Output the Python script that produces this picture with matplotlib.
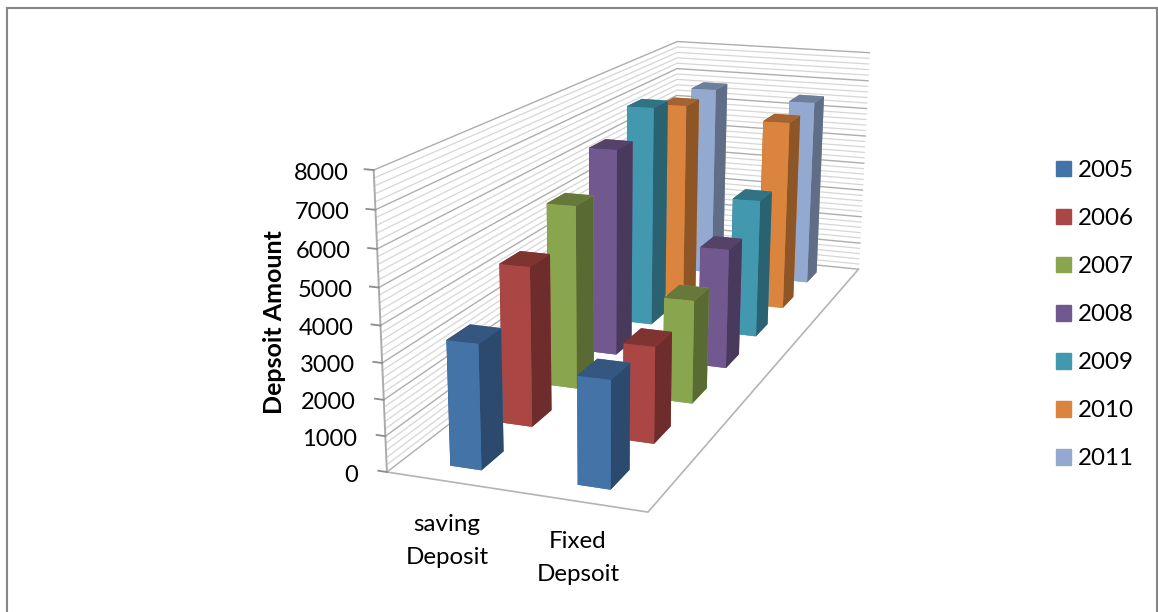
import matplotlib
matplotlib.use("Agg")
import matplotlib.pyplot as plt
from matplotlib.lines import Line2D
from matplotlib.patches import Patch
from mpl_toolkits.mplot3d import proj3d

plt.rcParams["font.family"] = "Lato"

years = ["2005", "2006", "2007", "2008", "2009", "2010", "2011"]
categories = ["saving\nDeposit", "Fixed\nDepsoit"]
saving_deposit = [3475, 4625, 5550, 6525, 7230, 6725, 6730]
fixed_deposit = [2960, 2775, 3105, 3755, 4510, 6405, 6510]
z_major = [0, 1000, 2000, 3000, 4000, 5000, 6000, 7000, 8000]

# front, top and side shades for each year
front_colors = ["#4473a8", "#aa4643", "#89a54e", "#71588f", "#4198af", "#db843d", "#93a9cf"]
top_colors = ["#34567f", "#803432", "#67793a", "#554269", "#317283", "#a46330", "#6e7f9b"]
side_colors = ["#2c4a6e", "#6e2d2c", "#596b32", "#49395d", "#2a6271", "#8e5627", "#5f6e86"]

W, H = 1158, 612
fig = plt.figure(figsize=(W / 100, H / 100), dpi=100)
ax = fig.add_axes([262.09 / W, -108.69 / H, 727.71 / W, 727.71 / H], projection="3d", computed_zorder=False)
ax.set_axis_off()
ax.patch.set_alpha(0)

# camera and box for the perspective view
ax.view_init(elev=18.4877, azim=-70.2989, roll=-0.39)
ax.set_proj_type("persp", focal_length=0.4277)
ax.set_box_aspect((0.8507, 2.7729, 0.9453))
ox, oy, oz = 0.1641, 0.6746, -0.1719
ax.set_xlim((ox - .5) * 2, (ox + .5) * 2)
ax.set_ylim((oy - .5) * 7, (oy + .5) * 7)
ax.set_zlim((oz - .5) * 8000, (oz + .5) * 8000)

n_rows = len(years)

# gridlines on the two walls, every 200 with darker ones at each 1000
for z in range(0, 8200, 200):
    c, lw = ("#adadad", 1.0) if z % 1000 == 0 else ("#d6d6d6", 0.9)
    ax.plot([0, 0, 2], [0, n_rows, n_rows], [z, z, z], color=c, lw=lw, zorder=1)

# axis lines, floor edges and tick marks
ax.plot([0, 0], [0, 0], [0, 8000], color="#ababab", lw=1.4, zorder=2)
ax.plot([0, 2, 2], [0, 0, n_rows], [0, 0, 0], color="#b4b4b4", lw=1.2, zorder=2)
ax.apply_aspect()
M = ax.get_proj()
for z in z_major:
    ax.plot([-0.07, 0], [0, 0], [z, z], color="#8c8c8c", lw=1.3, zorder=2)
    # tick label sits left of where the axis line passes, a little closer near the top
    u, v, _ = proj3d.proj_transform(0, 0, z, M)
    px, py = ax.transData.transform((u, v))
    fig.text((px - 29 + 4 * z / 8000) / W, (py - 3) / H, str(z), ha="right", va="center", fontsize=17)

# saving bars first, the fixed ones sit in front of them on screen
bar_w, bar_d = 0.25, 0.42
for j, values in enumerate([saving_deposit, fixed_deposit]):
    for i in range(n_rows - 1, -1, -1):
        faces = [front_colors[i], top_colors[i], front_colors[i], front_colors[i], side_colors[i], side_colors[i]]
        ax.bar3d(j + 0.5 - bar_w / 2, i + 0.5 - bar_d / 2, 0, bar_w, bar_d, values[i],
                 color=faces, shade=False, linewidth=0, zorder=10 + 10 * j + (n_rows - i))

# category names and axis title
fig.text(447 / W, 1 - 541 / H, categories[0], ha="center", va="center", fontsize=17.4, linespacing=1.65)
fig.text(578 / W, 1 - 558 / H, categories[1], ha="center", va="center", fontsize=17.4, linespacing=1.65)
fig.text(275 / W, 1 - 322 / H, "Depsoit Amount", rotation=90, ha="center", va="center",
         fontsize=18, fontweight="bold")

handles = [Patch(color=c, label=y) for c, y in zip(front_colors, years)]
fig.legend(handles=handles, loc="upper left", bbox_to_anchor=(1056 / W, 1 - 160 / H), frameon=False,
           fontsize=17.4, handlelength=0.62, handleheight=0.62, handletextpad=0.3,
           labelspacing=1.12, borderpad=0, borderaxespad=0)

# outer border of the chart area
frame_c = "#868686"
lw_frame = 1.5
fig.add_artist(Line2D([7 / W, 7 / W], [0, 1 - 8 / H], color=frame_c, lw=lw_frame))
fig.add_artist(Line2D([7 / W, 1157 / W], [1 - 8 / H, 1 - 8 / H], color=frame_c, lw=lw_frame))
fig.add_artist(Line2D([1157 / W, 1157 / W], [0, 1 - 8 / H], color=frame_c, lw=lw_frame))

fig.savefig("out.png", dpi=100)
